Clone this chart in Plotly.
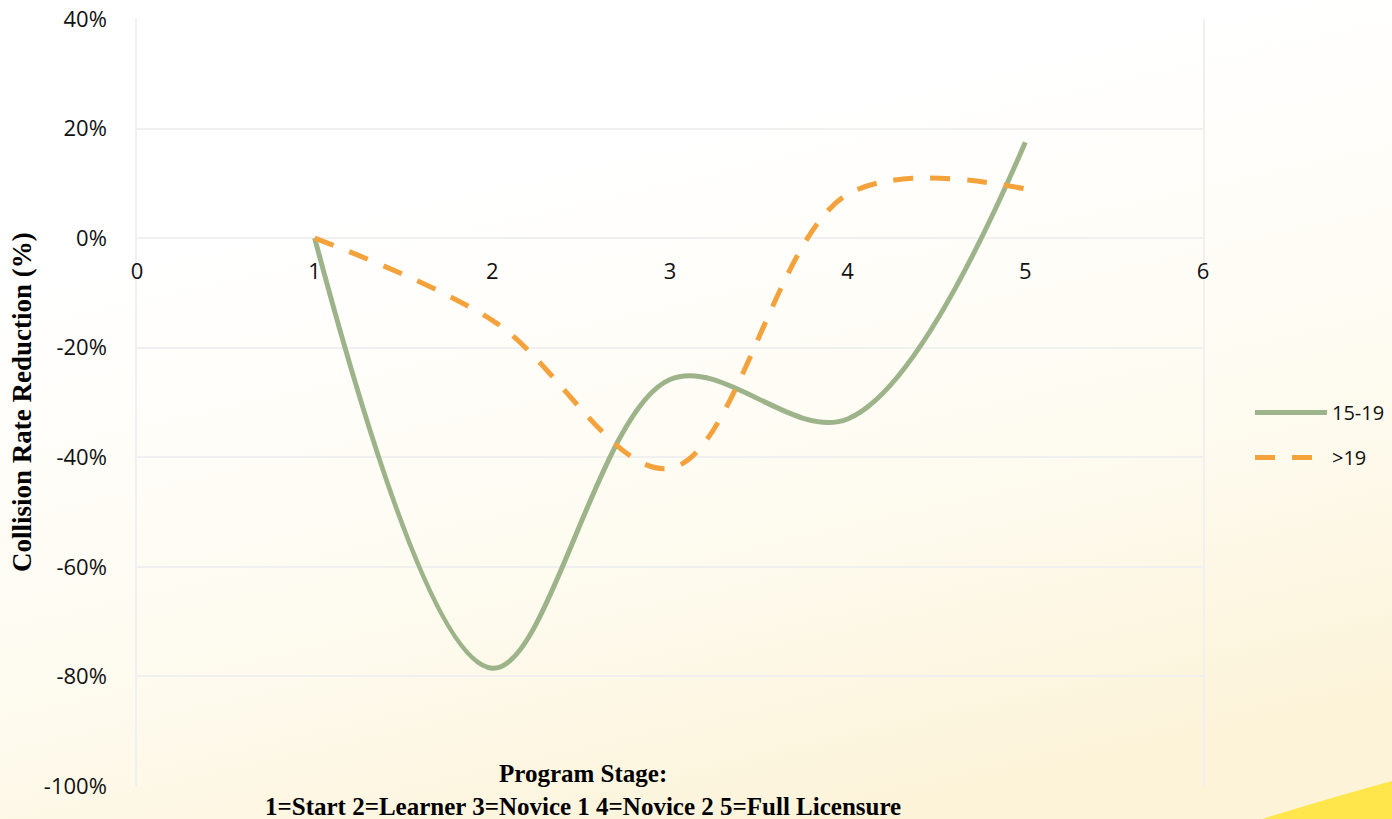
import base64
import plotly.graph_objects as go

# ---- data ----
stages = [1, 2, 3, 4, 5]
teen_15_19 = [0.0, -0.785, -0.258, -0.33, 0.175]
over_19 = [0.0, -0.15, -0.42, 0.08, 0.09]
series_names = ["15-19", ">19"]
y_ticks = [0.4, 0.2, 0.0, -0.2, -0.4, -0.6, -0.8, -1.0]
y_tick_labels = ["40%", "20%", "0%", "-20%", "-40%", "-60%", "-80%", "-100%"]
x_ticks = [0, 1, 2, 3, 4, 5, 6]

W, H = 1392, 819
L, R, T, B = 137, 189, 19, 33
PW, PH = W - L - R, H - T - B

svg = f'''<svg xmlns="http://www.w3.org/2000/svg" width="{W}" height="{H}" viewBox="0 0 {W} {H}" preserveAspectRatio="none">
<defs><linearGradient id="g" x1="0.35" y1="0.22" x2="0.65" y2="1">
<stop offset="0" stop-color="#FFFFFF"/>
<stop offset="0.55" stop-color="#FEFBF0"/>
<stop offset="1" stop-color="#FCF3D8"/></linearGradient></defs>
<rect width="{W}" height="{H}" fill="url(#g)"/>
<path d="M1262,819 Q1330,798 1392,781 L1392,819 Z" fill="#FFE64A"/>
</svg>'''
src = "data:image/svg+xml;base64," + base64.b64encode(svg.encode()).decode()

fig = go.Figure()
fig.add_trace(go.Scatter(
    x=stages, y=teen_15_19, name=series_names[0], mode="lines", legendgroup="a",
    line=dict(color="#9DB48B", width=5, shape="spline", smoothing=1.0),
))
fig.add_trace(go.Scatter(
    x=stages, y=over_19, name=series_names[1], mode="lines", legendgroup="b",
    line=dict(color="#F4A23C", width=5, shape="spline", smoothing=1.0, dash="20px,17px"),
))

tick_font = dict(family="Open Sans, Lato, sans-serif", size=22, color="#111111")
zero_pos = (0 - (-1.0)) / (0.4 - (-1.0))
serif = "Liberation Serif, Times New Roman, serif"

fig.update_layout(
    width=W, height=H,
    margin=dict(l=L, r=R, t=T, b=B, autoexpand=False),
    paper_bgcolor="rgba(0,0,0,0)",
    plot_bgcolor="rgba(0,0,0,0)",
    images=[dict(source=src, xref="paper", yref="paper",
                 x=-L / PW, y=1 + T / PH, sizex=W / PW, sizey=H / PH,
                 sizing="stretch", xanchor="left", yanchor="top", layer="below")],
    xaxis=dict(range=[0, 6], tickvals=x_ticks, showgrid=False, zeroline=False,
               anchor="free", position=zero_pos, showline=False, ticks="",
               tickfont=tick_font, ticklabelstandoff=18, automargin=False),
    yaxis=dict(range=[-1.0, 0.4], tickvals=y_ticks, ticktext=y_tick_labels,
               showgrid=True, gridcolor="#F0F0F0", gridwidth=1.5,
               zeroline=True, zerolinecolor="#F0F0F0", zerolinewidth=1.5,
               showline=True, linecolor="#F0F0F0", linewidth=1.5, mirror=True,
               ticks="", tickfont=tick_font, ticklabelstandoff=24, automargin=False),
    legend=dict(x=1 + 47 / PW, y=(H - 435 - B) / PH, xanchor="left", yanchor="middle",
                bgcolor="rgba(0,0,0,0)", tracegroupgap=16,
                font=dict(family="Open Sans, Lato, sans-serif", size=20, color="#111111"),
                itemwidth=72),
    showlegend=True,
    annotations=[
        dict(text="<b>Program Stage:</b><br><b>1=Start 2=Learner 3=Novice 1 4=Novice 2 5=Full Licensure</b>",
             xref="paper", yref="paper", x=(583 - L) / PW, y=(H - 790 - B) / PH,
             xanchor="center", yanchor="middle", showarrow=False,
             font=dict(family=serif, size=25, color="#000000")),
        dict(text="<b>Collision Rate Reduction (%)</b>",
             xref="paper", yref="paper", x=(22 - L) / PW, y=(H - 402 - B) / PH,
             xanchor="center", yanchor="middle", showarrow=False, textangle=-90,
             font=dict(family=serif, size=27, color="#000000")),
    ],
)

fig.write_html("out.html")
